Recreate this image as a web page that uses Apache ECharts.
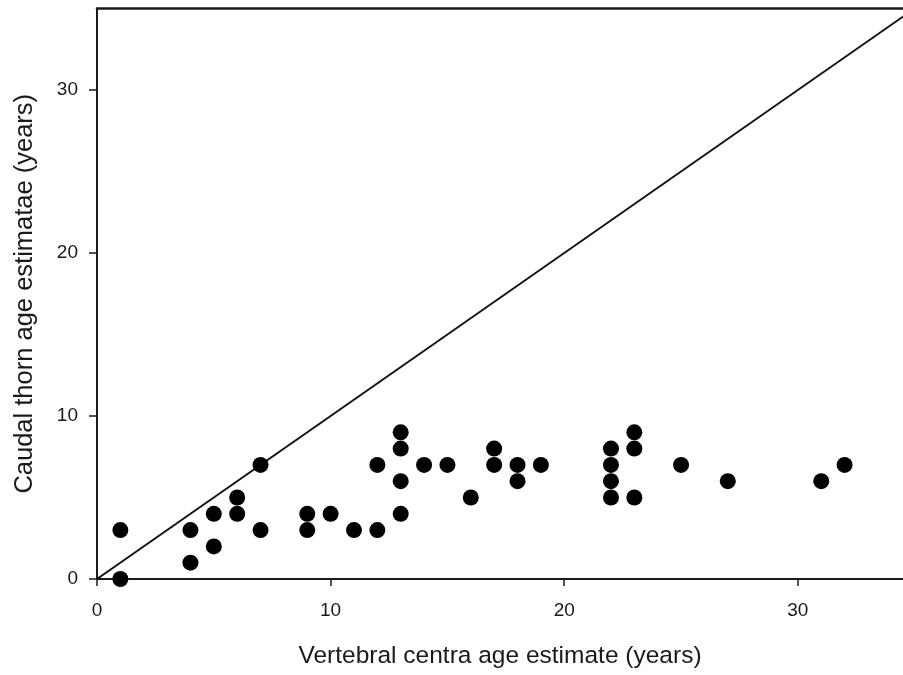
<!DOCTYPE html>
<html>
<head>
<meta charset="utf-8">
<style>
  html, body { margin: 0; padding: 0; background: #fff; }
  #chart { width: 903px; height: 675px; }
</style>
<script src="https://cdn.jsdelivr.net/npm/echarts@6/dist/echarts.min.js"></script>
</head>
<body>
<div id="chart"></div>
<script>
// Vertebral centra age (x) vs caudal thorn age (y), years
const vertebralAge = [1, 1, 4, 4, 5, 5, 6, 6, 7, 7, 9, 9, 10, 11, 12, 12,
  13, 13, 13, 13, 14, 15, 16, 17, 17, 18, 18, 19,
  22, 22, 22, 22, 23, 23, 23, 25, 27, 31, 32];
const thornAge = [3, 0, 3, 1, 4, 2, 5, 4, 7, 3, 4, 3, 4, 3, 7, 3,
  9, 8, 6, 4, 7, 7, 5, 8, 7, 7, 6, 7,
  8, 7, 6, 5, 9, 8, 5, 7, 6, 6, 7];
// 1:1 reference line
const lineX = [0, 35];
const lineY = [0, 35];
const axisTicks = [0, 10, 20, 30];

const points = vertebralAge.map((v, i) => [v, thornAge[i]]);
const oneToOne = lineX.map((v, i) => [v, lineY[i]]);

const font = '"Liberation Sans", Arial, sans-serif';
const ink = '#1a1a1a';
const chart = echarts.init(document.getElementById('chart'));
chart.setOption({
  animation: false,
  grid: { left: 97, top: 8.5, right: 0, bottom: 96 },
  xAxis: [
    {
      type: 'value', min: 0, max: 34.5,
      name: 'Vertebral centra age estimate (years)',
      nameLocation: 'middle', nameGap: 65,
      nameTextStyle: { fontFamily: font, fontSize: 24.5, color: ink },
      axisLine: { show: true, onZero: false, lineStyle: { color: ink, width: 2 } },
      axisTick: { show: true, length: 7, lineStyle: { color: ink, width: 1.5 }, customValues: axisTicks },
      axisLabel: { fontFamily: font, fontSize: 19, color: ink, margin: 22, customValues: axisTicks },
      splitLine: { show: false }
    },
    {
      // top frame line only
      type: 'value', position: 'top', min: 0, max: 34.5,
      axisLine: { show: true, onZero: false, lineStyle: { color: ink, width: 2.5 } },
      axisTick: { show: false }, axisLabel: { show: false }, splitLine: { show: false }
    }
  ],
  yAxis: {
    type: 'value', min: 0, max: 35,
    name: 'Caudal thorn age estimatae (years)',
    nameLocation: 'middle', nameGap: 59,
    nameTextStyle: { fontFamily: font, fontSize: 25.5, color: ink },
    axisLine: { show: true, onZero: false, lineStyle: { color: ink, width: 2 } },
    axisTick: { show: true, length: 8, lineStyle: { color: ink, width: 1.5 }, customValues: axisTicks },
    axisLabel: { fontFamily: font, fontSize: 19, color: ink, margin: 19, customValues: axisTicks },
    splitLine: { show: false }
  },
  series: [
    {
      type: 'line', data: oneToOne, symbol: 'none', clip: true,
      lineStyle: { color: '#111', width: 2 }, z: 2
    },
    {
      type: 'scatter', data: points, symbol: 'circle', symbolSize: 16,
      itemStyle: { color: '#000', opacity: 1 }, z: 3
    }
  ]
});
</script>
</body>
</html>
